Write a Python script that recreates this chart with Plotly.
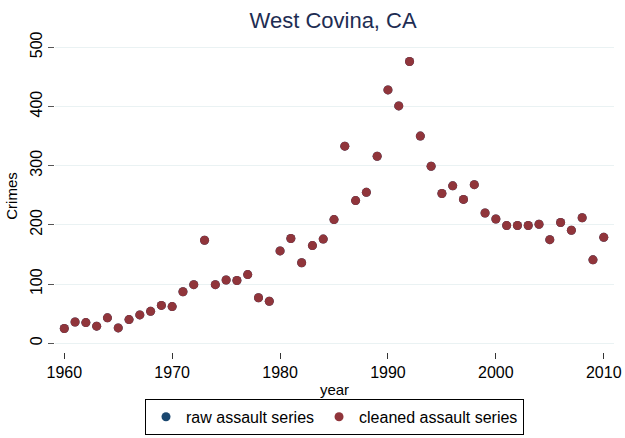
import plotly.graph_objects as go

years = list(range(1960, 2011))

# cleaned series; raw series sits exactly underneath it
cleaned_assault = [25, 36, 35, 29, 43, 26, 40, 48, 54, 64,
                   62, 87, 99, 174, 99, 107, 106, 116, 77, 71,
                   156, 177, 136, 165, 176, 209, 333, 241, 255, 316,
                   428, 401, 476, 350, 299, 253, 266, 243, 268, 220,
                   210, 199, 199, 199, 201, 175, 204, 191, 212, 141,
                   179]
raw_assault = list(cleaned_assault)

x_ticks = [1960, 1970, 1980, 1990, 2000, 2010]
y_ticks = [0, 100, 200, 300, 400, 500]

font = "Liberation Sans, Arial, sans-serif"

fig = go.Figure()
fig.add_trace(go.Scatter(x=years, y=raw_assault, mode="markers", name="raw assault series",
                         marker=dict(color="#1a476f", size=9)))
fig.add_trace(go.Scatter(x=years, y=cleaned_assault, mode="markers", name="cleaned assault series",
                         marker=dict(color="#90353b", size=9)))

fig.update_layout(
    width=625, height=438,
    margin=dict(l=55, r=11, t=40, b=86, autoexpand=False),
    paper_bgcolor="white", plot_bgcolor="white",
    font=dict(family=font, size=16, color="black"),
    title=dict(text="West Covina, CA", x=0.533, xanchor="center", y=1 - 20 / 438, yanchor="middle",
               yref="container", font=dict(size=22, color="#1e2d53")),
    showlegend=True,
    legend=dict(orientation="h", x=0.5, xanchor="center", y=-0.15, yanchor="top",
                bordercolor="black", borderwidth=1, font=dict(size=16),
                itemwidth=30, tracegroupgap=0),
)
fig.update_xaxes(range=[1959.14, 2010.95], tickvals=x_ticks, showgrid=False, zeroline=False,
                 showline=False, ticks="outside", ticklen=6, tickcolor="#333", automargin=False,
                 tickfont=dict(size=16), title=dict(text="year", standoff=4, font=dict(size=15)))
fig.update_yaxes(range=[-14.7, 512.3], tickvals=y_ticks, tickangle=-90, showgrid=True,
                 gridcolor="#eaf2f3", gridwidth=1, zeroline=False, showline=False,
                 ticks="outside", ticklen=6, tickcolor="#555", automargin=False,
                 tickfont=dict(size=16), title=dict(text="Crimes", standoff=6, font=dict(size=15)))

# drop the default page margin so the figure sits at the window's corner
fig.write_html("out.html", config={"displayModeBar": False},
               post_script="document.body.style.margin='0';")
